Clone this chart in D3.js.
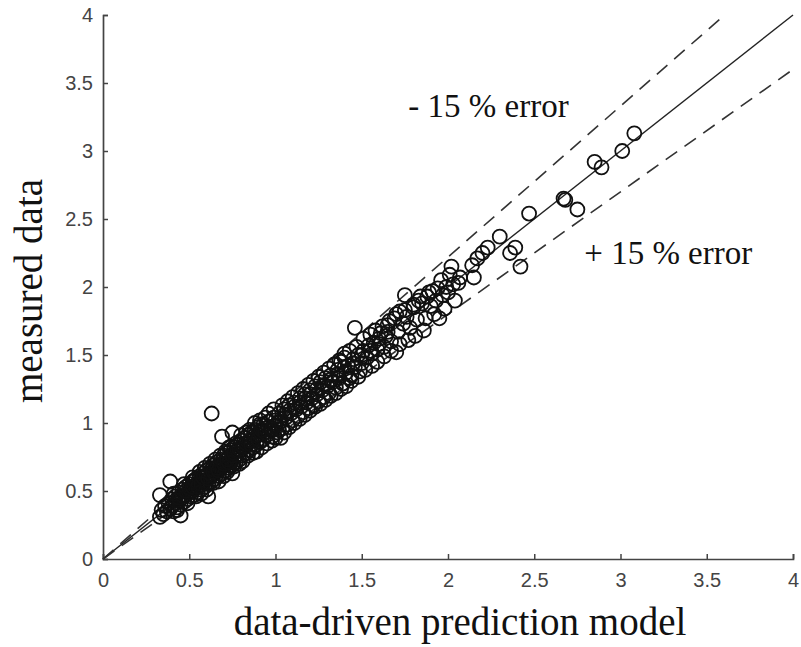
<!DOCTYPE html>
<html>
<head>
<meta charset="utf-8">
<script src="https://cdn.jsdelivr.net/npm/d3@7"></script>
<style>
  body { margin: 0; background: #fff; }
  .tick text { font-family: Arial, "Liberation Sans", sans-serif; font-size: 20px; fill: #444; }
  .title { font-family: "Liberation Serif", "Times New Roman", serif; fill: #111; }
</style>
</head>
<body>
<div class="chart"></div>
<script>
// values (predicted -> measured)
const predicted = [
  0.33, 0.33, 0.34, 0.35, 0.36, 0.37, 0.38, 0.39, 0.39, 0.40, 0.40, 0.41, 0.42, 0.42, 0.43,
  0.44, 0.44, 0.45, 0.45, 0.46, 0.46, 0.47, 0.48, 0.48, 0.49, 0.50, 0.50, 0.51, 0.51,
  0.52, 0.52, 0.53, 0.53, 0.54, 0.54, 0.55, 0.55, 0.56, 0.56, 0.57, 0.57, 0.58, 0.58, 0.59,
  0.59, 0.60, 0.60, 0.61, 0.61, 0.61, 0.62, 0.62, 0.63, 0.63, 0.63, 0.64, 0.64, 0.65, 0.65,
  0.66, 0.66, 0.67, 0.67, 0.68, 0.68, 0.69, 0.69, 0.69, 0.70, 0.70, 0.71, 0.71, 0.72, 0.72,
  0.73, 0.73, 0.74, 0.74, 0.75, 0.75, 0.75, 0.75,
  0.76, 0.76, 0.77, 0.78, 0.78, 0.79, 0.80, 0.80, 0.81, 0.82, 0.82, 0.83, 0.84, 0.84, 0.85,
  0.86, 0.86, 0.87, 0.88, 0.88, 0.89, 0.90, 0.90, 0.91, 0.91, 0.92, 0.93, 0.93, 0.94, 0.95,
  0.96, 0.97, 0.98, 0.99, 1.00, 1.01,
  1.02, 1.03, 1.03, 1.04, 1.05, 1.06, 1.07, 1.08, 1.09, 1.10, 1.11, 1.12, 1.13, 1.14, 1.15,
  1.16, 1.17, 1.18, 1.19, 1.20, 1.21, 1.22, 1.23, 1.24, 1.25, 1.26, 1.27, 1.28, 1.29, 1.30,
  1.31, 1.32, 1.33, 1.35, 1.36, 1.37, 1.38, 1.39, 1.40, 1.41, 1.42, 1.43, 1.44, 1.45, 1.46,
  1.46, 1.48, 1.49, 1.50,
  1.51, 1.53, 1.54, 1.56, 1.57, 1.59, 1.60, 1.61, 1.63, 1.64, 1.65, 1.67, 1.69, 1.70, 1.71,
  1.72, 1.74, 1.75, 1.76, 1.78, 1.80, 1.82, 1.83, 1.85, 1.87, 1.88, 1.90, 1.91, 1.93, 1.94,
  1.95, 1.97, 1.99, 2.00, 2.02, 2.03, 2.06, 2.07,
  2.14, 2.15, 2.17, 2.20, 2.23, 2.30, 2.36, 2.39, 2.42, 2.47, 2.67, 2.68, 2.75, 2.85, 2.89,
  3.01, 3.08,
  // edges of the dense band
  0.41, 0.43, 0.47, 0.49, 0.52, 0.54, 0.56, 0.57, 0.59, 0.60, 0.62, 0.64, 0.65, 0.67, 0.68,
  0.70, 0.71, 0.72, 0.73, 0.76, 0.77, 0.79, 0.80, 0.81, 0.83, 0.84, 0.85, 0.87, 0.88, 0.89,
  0.91, 0.92, 0.94, 0.95, 0.96, 0.98, 0.99, 1.00, 1.02, 1.04, 1.05, 1.07, 1.08, 1.10, 1.11,
  1.13, 1.14, 1.16, 1.17, 1.19, 1.20, 1.22, 1.23, 1.25, 1.26, 1.28, 1.29, 1.31, 1.32, 1.34,
  1.35, 1.37, 1.38, 1.40, 1.41, 1.43, 1.44, 1.47, 1.48, 1.51, 1.52, 1.55, 1.56, 1.58, 1.59,
  1.62, 1.63, 1.66, 1.67, 1.70, 1.72, 1.75, 1.77, 1.80, 1.81, 1.84, 1.86, 1.89, 1.92, 1.96,
  1.98, 2.01, 2.04,
  // core of the band
  0.42, 0.44, 0.46, 0.48, 0.50, 0.52, 0.53, 0.55, 0.57, 0.58, 0.60, 0.61, 0.63, 0.64, 0.66,
  0.67, 0.69, 0.70, 0.72, 0.73, 0.75, 0.76, 0.78, 0.79, 0.81, 0.83, 0.85, 0.86, 0.88, 0.90,
  0.92, 0.94, 0.96, 0.98, 1.00, 1.02, 1.05, 1.08, 1.11, 1.14, 1.17, 1.20, 1.24, 1.28, 1.32,
  1.36, 1.40, 1.45, 1.50, 1.55, 1.60, 1.65
];
const measured = [
  0.31, 0.47, 0.36, 0.33, 0.39, 0.35, 0.41, 0.57, 0.37, 0.44, 0.39, 0.35, 0.46, 0.41, 0.38,
  0.49, 0.43, 0.32, 0.40, 0.51, 0.45, 0.42, 0.53, 0.47, 0.44, 0.55, 0.49, 0.46, 0.52,
  0.57, 0.50, 0.47, 0.54, 0.59, 0.52, 0.49, 0.56, 0.61, 0.54, 0.51, 0.58, 0.63, 0.56, 0.53,
  0.60, 0.65, 0.58, 0.46, 0.55, 0.62, 0.67, 0.60, 1.07, 0.57, 0.64, 0.69, 0.62, 0.59, 0.66,
  0.71, 0.64, 0.61, 0.68, 0.73, 0.66, 0.90, 0.63, 0.70, 0.76, 0.68, 0.65, 0.72, 0.78, 0.70,
  0.67, 0.75, 0.80, 0.72, 0.93, 0.63, 0.69, 0.77,
  0.82, 0.74, 0.71, 0.84, 0.77, 0.73, 0.87, 0.80, 0.76, 0.89, 0.82, 0.78, 0.91, 0.85, 0.80,
  0.93, 0.87, 0.82, 0.95, 0.89, 0.84, 0.97, 0.91, 1.02, 0.86, 0.94, 0.99, 0.88, 0.96, 0.91,
  1.01, 0.95, 0.90, 1.04, 0.98, 0.93,
  1.07, 1.01, 0.89, 0.96, 1.10, 1.04, 0.99, 1.13, 1.07, 1.02, 1.15, 1.10, 1.05, 1.18, 1.12,
  1.08, 1.21, 1.15, 1.11, 1.24, 1.18, 1.13, 1.27, 1.21, 1.16, 1.30, 1.24, 1.19, 1.33, 1.27,
  1.22, 1.35, 1.30, 1.26, 1.39, 1.33, 1.45, 1.29, 1.48, 1.37, 1.42, 1.33, 1.35, 1.47, 1.41,
  1.70, 1.50, 1.38, 1.44,
  1.53, 1.48, 1.57, 1.51, 1.59, 1.54, 1.62, 1.66, 1.56, 1.64, 1.72, 1.60, 1.77, 1.52, 1.67,
  1.82, 1.73, 1.94, 1.78, 1.70, 1.85, 1.76, 1.90, 1.88, 1.77, 1.93, 1.86, 1.97, 1.90, 1.99,
  1.77, 1.94, 2.00, 1.96, 2.15, 2.02, 2.03, 2.07,
  2.16, 2.07, 2.21, 2.25, 2.29, 2.37, 2.25, 2.29, 2.15, 2.54, 2.65, 2.64, 2.57, 2.92, 2.88,
  3.00, 3.13,
  // edges of the dense band
  0.48, 0.36, 0.55, 0.41, 0.60, 0.46, 0.64, 0.48, 0.67, 0.51, 0.70, 0.56, 0.73, 0.57, 0.76,
  0.61, 0.79, 0.64, 0.82, 0.68, 0.85, 0.70, 0.91, 0.72, 0.93, 0.76, 0.95, 0.78, 1.00, 0.79,
  0.99, 0.82, 1.04, 0.85, 1.07, 0.87, 1.10, 0.89, 0.95, 1.13, 0.93, 1.16, 0.97, 1.19, 1.00,
  1.22, 1.03, 1.25, 1.06, 1.28, 1.09, 1.31, 1.12, 1.34, 1.14, 1.37, 1.17, 1.40, 1.20, 1.43,
  1.22, 1.46, 1.25, 1.51, 1.27, 1.53, 1.31, 1.56, 1.34, 1.62, 1.39, 1.65, 1.42, 1.68, 1.45,
  1.71, 1.49, 1.75, 1.53, 1.80, 1.58, 1.83, 1.61, 1.87, 1.64, 1.93, 1.68, 1.96, 1.80, 2.05,
  1.84, 2.09, 1.90,
  // core of the band
  0.43, 0.45, 0.47, 0.50, 0.52, 0.53, 0.58, 0.53, 0.55, 0.60, 0.61, 0.59, 0.66, 0.64, 0.67,
  0.65, 0.72, 0.70, 0.73, 0.71, 0.76, 0.78, 0.80, 0.81, 0.83, 0.85, 0.87, 0.84, 0.91, 0.88,
  0.95, 0.93, 0.97, 0.96, 1.02, 1.00, 1.06, 1.09, 1.12, 1.15, 1.18, 1.21, 1.25, 1.28, 1.32,
  1.36, 1.41, 1.44, 1.50, 1.53, 1.58, 1.67
];
const tickValues = [0, 0.5, 1, 1.5, 2, 2.5, 3, 3.5, 4];
const bandFactors = [1.11, 0.9]; // dashed error lines (upper, lower)
const annotations = [
  { text: '- 15 % error', x: 1.77, y: 3.25 },
  { text: '+ 15 % error', x: 2.79, y: 2.17 }
];

const W = 801, H = 647;
const margin = { top: 15, right: 8, bottom: 88, left: 103 };
const width = W - margin.left - margin.right;
const height = H - margin.top - margin.bottom;

const svg = d3.select('.chart')
  .append('svg')
  .attr('width', W)
  .attr('height', H)
  .append('g')
  .attr('transform', `translate(${margin.left}, ${margin.top})`);

const xScale = d3.scaleLinear().domain([0, 4]).range([0, width]);
const yScale = d3.scaleLinear().domain([0, 4]).range([height, 0]);

// axes with inward ticks
const xAxis = svg.append('g')
  .attr('transform', `translate(0, ${height})`)
  .call(d3.axisBottom(xScale).tickValues(tickValues).tickFormat(d3.format('')).tickSizeInner(-5).tickSizeOuter(-5).tickPadding(14));

const yAxis = svg.append('g')
  .call(d3.axisLeft(yScale).tickValues(tickValues).tickFormat(d3.format('')).tickSizeInner(-5).tickSizeOuter(-5).tickPadding(10));

[xAxis, yAxis].forEach(a => {
  a.select('.domain').attr('stroke', '#444').attr('stroke-width', 1.7);
  a.selectAll('.tick line').attr('stroke', '#444').attr('stroke-width', 1.5);
});

// reference line y = x
svg.append('line')
  .attr('x1', xScale(0)).attr('y1', yScale(0))
  .attr('x2', xScale(4)).attr('y2', yScale(4))
  .attr('stroke', '#222').attr('stroke-width', 1.4);

// dashed error lines
bandFactors.forEach(f => {
  const xEnd = Math.min(4, 4 / f);
  svg.append('line')
    .attr('x1', xScale(0)).attr('y1', yScale(0))
    .attr('x2', xScale(xEnd)).attr('y2', yScale(xEnd * f))
    .attr('stroke', '#333').attr('stroke-width', 1.6)
    .attr('stroke-dasharray', '14,9');
});

// scatter
const pts = predicted.map((p, i) => ({ p, m: measured[i] }));
svg.selectAll('circle.pt')
  .data(pts)
  .enter()
  .append('circle')
  .attr('class', 'pt')
  .attr('cx', d => xScale(d.p))
  .attr('cy', d => yScale(d.m))
  .attr('r', 7)
  .attr('fill', 'none')
  .attr('stroke', '#111')
  .attr('stroke-width', 1.8);

// annotations
svg.selectAll('text.note')
  .data(annotations)
  .enter()
  .append('text')
  .attr('class', 'title note')
  .attr('x', d => xScale(d.x))
  .attr('y', d => yScale(d.y))
  .style('font-size', '33px')
  .text(d => d.text);

// axis titles
svg.append('text')
  .attr('class', 'title')
  .attr('x', width / 2 + 12)
  .attr('y', height + 76)
  .attr('text-anchor', 'middle')
  .style('font-size', '39px')
  .text('data-driven prediction model');

svg.append('text')
  .attr('class', 'title')
  .attr('transform', `translate(${-margin.left + 42}, ${height / 2 + 4}) rotate(-90)`)
  .attr('text-anchor', 'middle')
  .style('font-size', '39px')
  .text('measured data');
</script>
</body>
</html>
